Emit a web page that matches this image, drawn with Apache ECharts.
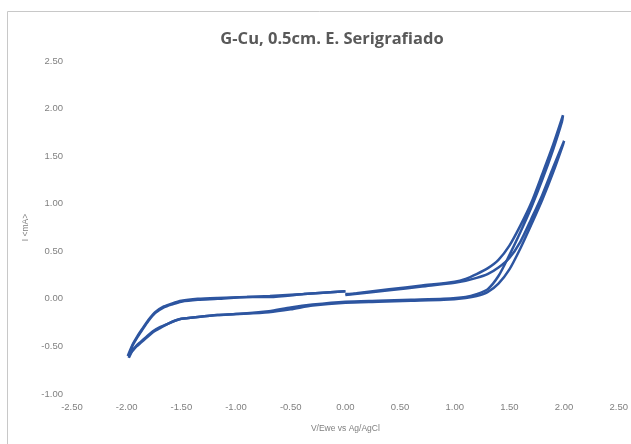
<!DOCTYPE html>
<html>
<head>
<meta charset="utf-8">
<script src="https://cdn.jsdelivr.net/npm/echarts@6/dist/echarts.min.js"></script>
<style>html,body{margin:0;padding:0;background:#fff}#c{width:631px;height:444px}</style>
</head>
<body>
<div id="c"></div>
<script>
const titleText = 'G-Cu, 0.5cm. E. Serigrafiado';
const xAxisName = 'V/Ewe vs Ag/AgCl';
const yAxisName = 'I <mA>';
const xTicks = [-2.5, -2, -1.5, -1, -0.5, 0, 0.5, 1, 1.5, 2, 2.5];
const yTicks = [-1, -0.5, 0, 0.5, 1, 1.5, 2, 2.5];

// Cycle 1: E (V) and I (mA)
const cycle1E = [0.0,0.1,0.4,0.7,1.0,1.1,1.2,1.3,1.4,1.5,1.6,1.7,1.8,1.9,1.99,
  1.98,1.9,1.8,1.7,1.6,1.5,1.4,1.3,1.2,1.1,0.9,0.6,0.3,0.0,-0.3,-0.5,-0.7,-1.0,-1.17,-1.35,-1.5,-1.56,-1.62,-1.7,-1.76,-1.82,-1.87,-1.91,-1.95,-1.98,
  -1.95,-1.9,-1.86,-1.8,-1.74,-1.66,-1.59,-1.5,-1.35,-1.17,-0.9,-0.69,-0.38,0.0];
const cycle1I = [0.05,0.06,0.10,0.14,0.18,0.21,0.26,0.32,0.41,0.56,0.77,1.01,1.31,1.62,1.93,
  1.86,1.57,1.25,0.96,0.70,0.46,0.24,0.10,0.05,0.02,0.0,-0.01,-0.02,-0.03,-0.06,-0.09,-0.13,-0.16,-0.17,-0.19,-0.21,-0.23,-0.26,-0.30,-0.34,-0.40,-0.45,-0.49,-0.55,-0.62,
  -0.50,-0.40,-0.33,-0.23,-0.15,-0.09,-0.06,-0.03,-0.01,0.0,0.02,0.02,0.05,0.08];

// Cycle 2
const cycle2E = [0.0,0.4,0.7,1.0,1.1,1.2,1.3,1.4,1.5,1.6,1.7,1.8,1.9,2.0,
  1.99,1.9,1.8,1.7,1.6,1.5,1.4,1.3,1.2,1.1,0.9,0.6,0.3,0.0,-0.3,-0.5,-0.7,-1.0,-1.17,-1.35,-1.5,-1.56,-1.62,-1.7,-1.76,-1.82,-1.87,-1.91,-1.95,-1.99,
  -1.95,-1.9,-1.86,-1.8,-1.74,-1.66,-1.59,-1.5,-1.35,-1.17,-0.9,-0.69,-0.38,0.0];
const cycle2I = [0.04,0.09,0.13,0.17,0.19,0.22,0.26,0.33,0.43,0.60,0.84,1.09,1.38,1.66,
  1.62,1.33,1.04,0.78,0.53,0.31,0.16,0.07,0.03,0.01,-0.01,-0.02,-0.03,-0.04,-0.07,-0.11,-0.14,-0.16,-0.17,-0.19,-0.21,-0.23,-0.26,-0.31,-0.35,-0.41,-0.46,-0.50,-0.55,-0.60,
  -0.49,-0.39,-0.32,-0.22,-0.14,-0.08,-0.05,-0.02,0.0,0.01,0.02,0.03,0.05,0.08];

const pair = (xs, ys) => xs.map((x, i) => [x, ys[i]]);
const lineColor = '#2d55a0';
const chart = echarts.init(document.getElementById('c'));
const labelStyle = { color: '#808080', fontSize: 9.5, fontFamily: 'Liberation Sans' };
chart.setOption({
  animation: false,
  backgroundColor: '#fff',
  graphic: [{ type: 'rect', shape: { x: 7.5, y: 11.5, width: 700, height: 500 }, style: { fill: 'none', stroke: '#c8c8c8', lineWidth: 1 } }],
  title: { text: titleText, left: 327, top: 26, textAlign: 'center',
    textStyle: { color: '#595959', fontSize: 16.5, fontWeight: 'bold', fontFamily: 'Open Sans' } },
  grid: { left: 72, right: 6, top: 61, bottom: 50 },
  xAxis: { type: 'value', min: -2.5, max: 2.5, interval: 0.5,
    axisLine: { show: false }, axisTick: { show: false }, splitLine: { show: false },
    axisLabel: Object.assign({ margin: 8, formatter: v => v.toFixed(2), showMaxLabel: true, showMinLabel: true }, labelStyle),
    name: xAxisName, nameLocation: 'middle', nameGap: 30, nameTextStyle: { color: '#808080', fontSize: 8.5, fontFamily: 'Liberation Sans' } },
  yAxis: { type: 'value', min: -1, max: 2.5, interval: 0.5,
    axisLine: { show: false }, axisTick: { show: false }, splitLine: { show: false },
    axisLabel: Object.assign({ margin: 9, formatter: v => v.toFixed(2) }, labelStyle),
    name: yAxisName, nameLocation: 'middle', nameGap: 40, nameTextStyle: { color: '#808080', fontSize: 8.5, fontFamily: 'Liberation Sans' } },
  series: [
    { type: 'line', data: pair(cycle1E, cycle1I), showSymbol: false, smooth: 0.25, lineStyle: { color: lineColor, width: 2.5 }, itemStyle: { color: lineColor } },
    { type: 'line', data: pair(cycle2E, cycle2I), showSymbol: false, smooth: 0.25, lineStyle: { color: lineColor, width: 2.5 }, itemStyle: { color: lineColor } }
  ]
});
</script>
</body>
</html>
